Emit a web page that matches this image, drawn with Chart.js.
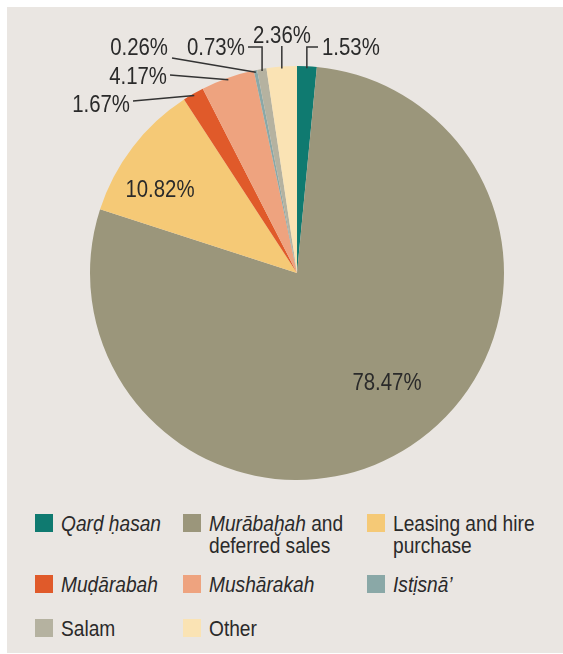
<!DOCTYPE html>
<html>
<head>
<meta charset="utf-8">
<script src="https://cdn.jsdelivr.net/npm/chart.js@4.4.0/dist/chart.umd.min.js"></script>
<style>
  html, body { margin: 0; padding: 0; background: #fff; }
  #panel {
    position: absolute; left: 7px; top: 7px; width: 556px; height: 646px;
    background: #eae6e2; font-family: "Liberation Sans", Arial, sans-serif;
    color: #2a2a2a;
  }
  #wrap { position: absolute; left: 0; top: 0; width: 556px; height: 490px; }
  .item { position: absolute; font-size: 22px; line-height: 22px; }
  .box { position: absolute; left: 0; top: 1px; width: 18px; height: 18px; }
  .txt { position: absolute; left: 26px; top: 0; white-space: nowrap; transform: scaleX(0.87); transform-origin: 0 0; }
  i { font-style: italic; }
</style>
</head>
<body>
<div id="panel">
  <div id="wrap"><canvas id="pie"></canvas></div>
  <div id="legend"></div>
</div>
<script>
const categories = [
  "<i>Qarḍ ḥasan</i>",
  "<i>Murābaḫah</i> and<br>deferred sales",
  "Leasing and hire<br>purchase",
  "<i>Muḍārabah</i>",
  "<i>Mushārakah</i>",
  "<i>Istịsnā’</i>",
  "Salam",
  "Other"
];
const shares = [1.53, 78.47, 10.82, 1.67, 4.17, 0.26, 0.73, 2.36];
const colors = ["#0f7a70", "#9b967b", "#f5c976", "#e05a2a", "#eea37f", "#8aa8a7", "#b5b2a0", "#fae3b4"];

// label placement (page layout only)
const labelSpots = [
  { x: 322, y: 55, align: "left", leader: "elbow", lx: 318, ly: 47 },
  { x: 387, y: 390, align: "center", leader: "none" },
  { x: 160, y: 197, align: "center", leader: "none" },
  { x: 130, y: 112, align: "right", leader: "line", lx: 133, ly: 101 },
  { x: 167, y: 84, align: "right", leader: "line", lx: 170, ly: 75 },
  { x: 168, y: 55, align: "right", leader: "line", lx: 172, ly: 58 },
  { x: 187, y: 55, align: "left", leader: "elbow", lx: 248, ly: 47 },
  { x: 282, y: 43, align: "center", leader: "down" }
];
const ox = 7, oy = 7;

const leaderPlugin = {
  id: "leaders",
  afterDatasetsDraw(chart) {
    const ctx = chart.ctx;
    const arcs = chart.getDatasetMeta(0).data;
    ctx.save();
    ctx.font = '24px "Liberation Sans", Arial';
    ctx.fillStyle = "#2a2a2a";
    ctx.strokeStyle = "#333";
    ctx.lineWidth = 1.5;
    arcs.forEach((arc, i) => {
      const s = labelSpots[i];
      const p = arc.getProps(["x", "y", "startAngle", "endAngle", "outerRadius"], true);
      const mid = (p.startAngle + p.endAngle) / 2;
      const ex = p.x + Math.cos(mid) * (p.outerRadius - 2);
      const ey = p.y + Math.sin(mid) * (p.outerRadius - 2);
      const tx = s.x - ox, ty = s.y - oy;
      ctx.beginPath();
      if (s.leader === "line") {
        ctx.moveTo(s.lx - ox, s.ly - oy);
        ctx.lineTo(ex, ey);
      } else if (s.leader === "elbow") {
        ctx.moveTo(s.lx - ox, s.ly - oy);
        ctx.lineTo(ex, s.ly - oy);
        ctx.lineTo(ex, ey);
      } else if (s.leader === "down") {
        ctx.moveTo(ex, ty + 3);
        ctx.lineTo(ex, ey);
      }
      ctx.stroke();
      // condensed text
      ctx.save();
      ctx.translate(tx, ty);
      ctx.scale(0.85, 1);
      ctx.textAlign = s.align;
      ctx.textBaseline = "alphabetic";
      ctx.fillText(shares[i].toFixed(2) + "%", 0, 0);
      ctx.restore();
    });
    ctx.restore();
  }
};

new Chart(document.getElementById("pie"), {
  type: "pie",
  data: {
    labels: categories.map(c => c.replace(/<[^>]+>/g, " ")),
    datasets: [{
      data: shares,
      backgroundColor: colors,
      borderWidth: 0
    }]
  },
  options: {
    responsive: true,
    maintainAspectRatio: false,
    animation: false,
    layout: { padding: { left: 83, right: 59, top: 59, bottom: 17 } },
    plugins: { legend: { display: false }, tooltip: { enabled: false } }
  },
  plugins: [leaderPlugin]
});

// legend, three columns
const legendPos = [
  [28, 506], [176, 506], [360, 506],
  [28, 567], [176, 567], [360, 567],
  [28, 611], [176, 611]
];
const legend = document.getElementById("legend");
categories.forEach((c, i) => {
  const d = document.createElement("div");
  d.className = "item";
  d.style.left = legendPos[i][0] + "px";
  d.style.top = legendPos[i][1] + "px";
  d.innerHTML = '<div class="box" style="background:' + colors[i] + '"></div><div class="txt">' + c + "</div>";
  legend.appendChild(d);
});
</script>
</body>
</html>
